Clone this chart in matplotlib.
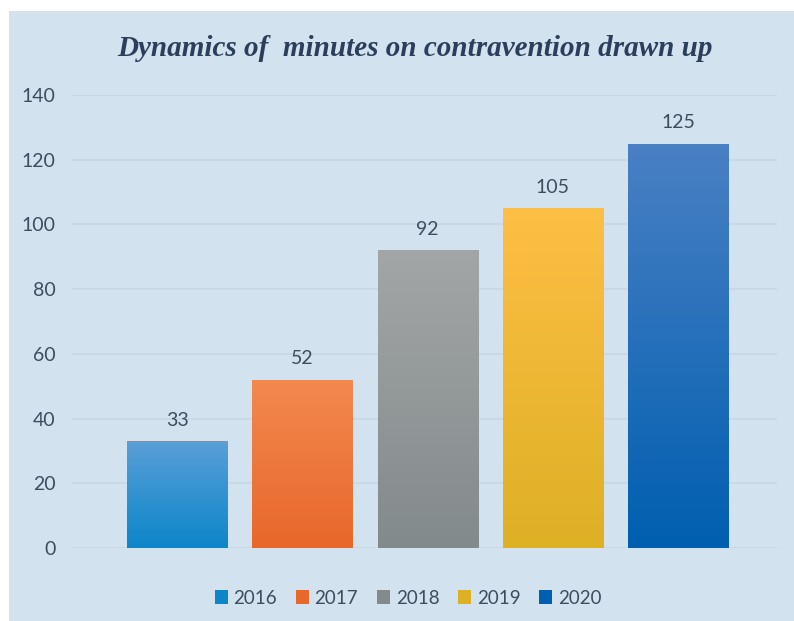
import matplotlib
matplotlib.use("Agg")
import matplotlib.pyplot as plt
import matplotlib.patches as mpatches
import matplotlib.colors as mcolors
import numpy as np

years = ["2016", "2017", "2018", "2019", "2020"]
values = [33, 52, 92, 105, 125]
top_colors = ["#5a9fd8", "#f3894f", "#a3a6a7", "#fdbf45", "#4a80c4"]
bottom_colors = ["#0c86c9", "#e8672a", "#838a8b", "#deb024", "#005fb0"]
yticks = [0, 20, 40, 60, 80, 100, 120, 140]
title = "Dynamics of  minutes on contravention drawn up"

BG = "#d2e2ef"
fig = plt.figure(figsize=(7.94, 6.21), dpi=100, facecolor="white")
fig.patches.append(mpatches.Rectangle((9 / 794, 0), 1 - 9 / 794, (621 - 11) / 621,
                                      transform=fig.transFigure, facecolor=BG,
                                      edgecolor="none", zorder=-10))
ax = fig.add_axes([72 / 794, (621 - 548) / 621, (777 - 72) / 794, (548 - 95) / 621])
ax.set_facecolor("none")

x = np.arange(len(years))
bars = ax.bar(x, values, width=0.8, color=bottom_colors, zorder=2)
for b, c1, c2, lab in zip(bars, top_colors, bottom_colors, years):
    b.set_label(lab)
    cmap = mcolors.LinearSegmentedColormap.from_list("g", [c2, c1])
    grad = np.linspace(0, 1, 256).reshape(-1, 1)
    x0, y0 = b.get_x(), b.get_y()
    w, h = b.get_width(), b.get_height()
    im = ax.imshow(grad, cmap=cmap, aspect="auto", origin="lower",
                   extent=[x0, x0 + w, y0, y0 + h], zorder=3)
    im.set_clip_path(b)

for xi, v in zip(x, values):
    ax.annotate(str(v), (xi, v), xytext=(0, 9), textcoords="offset points",
                ha="center", va="bottom", fontsize=14, color="#3e4c60",
                family="Lato")

ax.set_xlim(-0.84, 4.79)
ax.set_ylim(0, 140)
ax.set_yticks(yticks)
ax.set_yticklabels([str(t) for t in yticks], family="Lato", fontsize=14, color="#3e4c60")
ax.set_xticks([])
ax.tick_params(axis="y", length=0, pad=12)
for s in ax.spines.values():
    s.set_visible(False)
ax.yaxis.grid(True, color="#c6d6e2", linewidth=1.2, zorder=0)
ax.set_axisbelow(True)

fig.text(415 / 794, 1 - 48 / 621, title, ha="center", va="center",
         fontsize=21, fontweight="bold", style="italic", family="Liberation Serif",
         color="#2b3f5c")

leg = fig.legend(handles=list(bars), labels=years, loc="center",
                 bbox_to_anchor=(408 / 794, 1 - 598 / 621), ncol=5, frameon=False,
                 prop={"family": "Lato", "size": 13.5}, handlelength=0.7, handleheight=0.7,
                 handletextpad=0.3, columnspacing=1.0, labelcolor="#3e4c60")

fig.savefig("out.png", dpi=100, facecolor="white")
